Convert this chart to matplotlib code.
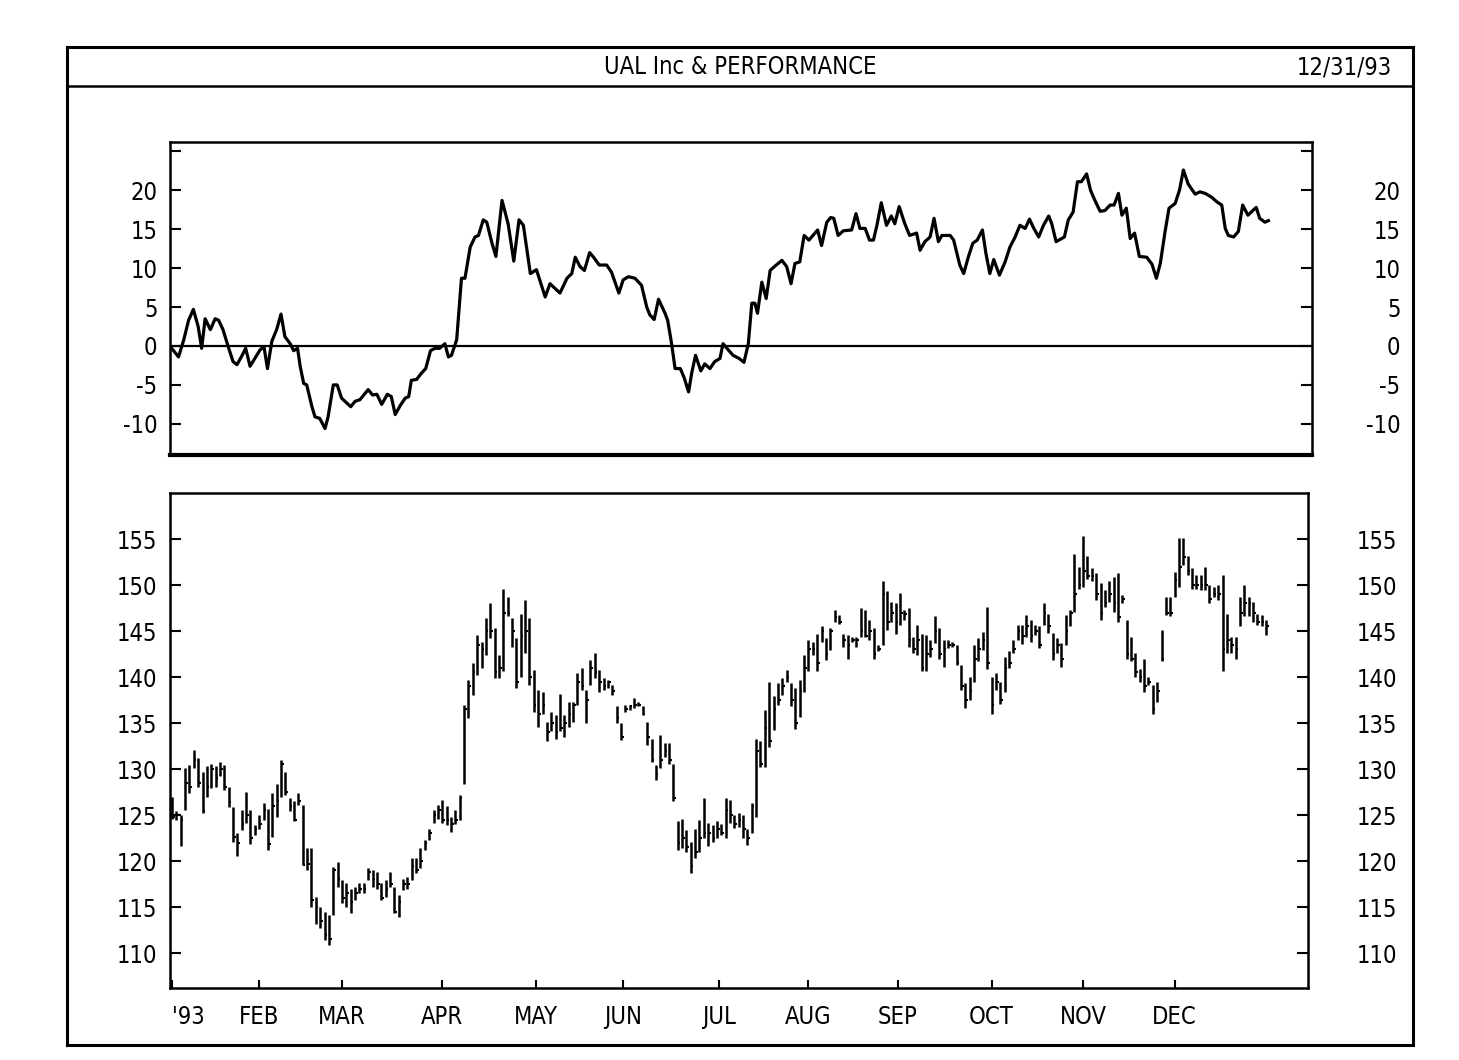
import numpy as np
import matplotlib
matplotlib.use("Agg")
import matplotlib.pyplot as plt
from matplotlib import font_manager as fm

# pick a narrow face if one is installed (the original uses a plotter-like condensed font)
ttf = fm.fontManager.ttflist
names = {f.name for f in ttf}
if 'Liberation Sans Narrow' in names:
    plt.rcParams['font.family'] = ['Liberation Sans Narrow', 'DejaVu Sans']
elif any(f.name == 'DejaVu Sans' and 'condensed' in str(f.stretch) for f in ttf):
    plt.rcParams['font.family'] = ['DejaVu Sans']
    plt.rcParams['font.stretch'] = 'condensed'
else:
    plt.rcParams['font.family'] = ['DejaVu Sans']

# performance line (% vs start): trading-day index, value
perf_day = [-0.5, 1.5, 2.7, 3.8, 4.9, 6.0, 6.8, 7.6, 8.8, 9.9, 10.7, 11.7, 12.9, 14.0, 14.9, 15.9,
            16.9, 17.9, 19.0, 20.2, 21.1, 21.9, 22.9, 24.0, 25.0, 25.9, 27.1, 27.9, 28.8, 29.4, 30.2,
            30.9, 32.1, 32.8, 33.9, 35.1, 35.8, 37.0, 37.9, 38.9, 41.0, 42.0, 43.1, 45.0, 46.0, 47.0,
            48.1, 49.4, 50.3, 51.2, 52.4, 53.5, 54.3, 54.9, 56.1, 57.2, 58.2, 59.3, 60.3, 61.4, 62.6,
            63.4, 64.1, 65.3, 66.4, 67.2, 68.4, 69.5, 70.3, 71.4, 72.2, 73.4, 74.3, 75.7, 77.1, 78.4,
            79.6, 80.6, 82.2, 83.6, 85.6, 86.7, 89.0, 90.6, 91.7, 92.5, 93.6, 94.6, 95.8, 96.7, 98.0,
            99.7, 100.8, 102.5, 103.5, 104.7, 106.2, 107.7, 108.9, 109.6, 110.6, 111.6, 113.1, 113.7,
            114.6, 115.4, 116.6, 117.5, 118.5, 119.2, 120.1, 121.3, 122.2, 123.4, 124.5, 125.7, 126.4,
            127.6, 128.7, 130.1, 131.2, 132.2, 133.0, 133.7, 134.3, 135.3, 136.3, 137.2, 138.4, 139.9,
            141.0, 142.0, 142.9, 144.0, 145.0, 146.1, 148.1, 149.0, 150.2, 151.1, 151.8, 152.8, 154.0,
            155.9, 156.9, 157.8, 159.0, 160.0, 160.9, 161.7, 162.7, 163.9, 165.0, 165.8, 166.8, 168.1,
            169.2, 170.8, 171.6, 172.7, 173.9, 174.8, 175.8, 176.6, 178.5, 179.3, 180.7, 181.6, 182.7,
            183.7, 184.7, 185.9, 186.7, 187.6, 188.5, 189.8, 191.1, 192.2, 193.4, 194.5, 195.7, 196.7,
            197.6, 198.8, 199.9, 201.1, 201.8, 202.8, 204.7, 205.6, 206.7, 207.7, 208.6, 209.8, 210.7,
            211.7, 212.9, 214.0, 215.2, 216.1, 217.1, 217.9, 218.9, 219.8, 220.8, 221.9, 223.6, 224.8,
            225.8, 226.7, 227.8, 228.7, 230.1, 231.1, 232.0, 233.1, 234.7, 235.8, 237.0, 238.5, 239.7,
            240.8, 241.6, 242.3, 243.5, 244.6, 245.6, 246.8, 248.7, 249.5, 250.7, 251.5]
perf_val = [0, -1.4, 0.8, 3.3, 4.7, 2.5, -0.3, 3.5, 2.1, 3.5, 3.3, 2.1, -0.1, -2.0, -2.4, -1.4,
            -0.3, -2.6, -1.6, -0.5, -0.1, -2.9, 0.6, 2.1, 4.1, 1.2, 0.3, -0.6, -0.3, -2.6, -4.8,
            -5.0, -7.8, -9.1, -9.3, -10.6, -9.1, -5.0, -5.0, -6.7, -7.8, -7.1, -6.9, -5.6, -6.3, -6.2,
            -7.5, -6.2, -6.5, -8.8, -7.6, -6.7, -6.5, -4.4, -4.3, -3.5, -2.9, -0.6, -0.3, -0.3, 0.3,
            -1.4, -1.2, 0.8, 8.7, 8.7, 12.7, 14.0, 14.2, 16.2, 15.9, 13.2, 11.5, 18.7, 15.7, 10.9,
            16.2, 15.5, 9.3, 9.8, 6.3, 8.0, 6.8, 8.7, 9.3, 11.4, 10.2, 9.7, 12.0, 11.4, 10.4,
            10.4, 9.5, 6.8, 8.5, 8.9, 8.7, 7.8, 5.0, 4.0, 3.4, 6.0, 4.2, 3.3,
            0.3, -2.9, -2.9, -4.1, -5.9, -3.5, -1.2, -3.2, -2.3, -2.9, -2.0, -1.6, 0.3,
            -0.5, -1.2, -1.6, -2.1, 0.3, 5.5, 5.5, 4.2, 8.2, 6.1, 9.7, 10.3, 11.0,
            10.2, 8.0, 10.6, 10.8, 14.2, 13.6, 14.9, 12.9, 15.9, 16.5, 16.4, 14.2, 14.8,
            14.9, 17.0, 15.1, 15.1, 13.6, 13.6, 15.5, 18.4, 15.5, 16.7, 15.7, 17.9, 15.7,
            14.2, 14.5, 12.3, 13.4, 14.0, 16.4, 13.4, 14.2, 14.2, 13.6, 10.4, 9.3, 11.5,
            13.2, 13.6, 14.9, 11.9, 9.3, 11.1, 9.1, 10.8, 12.7, 14.0, 15.5, 15.1, 16.3,
            15.2, 14.0, 15.5, 16.7, 15.7, 13.4, 14.0, 16.2, 17.2, 21.1, 21.1, 22.1, 20.0,
            18.7, 17.3, 17.4, 18.1, 18.1, 19.6, 16.8, 17.7, 13.8, 14.5, 11.5, 11.4, 10.5,
            8.7, 10.6, 14.7, 17.7, 18.3, 20.0, 22.6, 20.8, 19.5, 19.8, 19.6, 19.1, 18.5,
            18.1, 15.1, 14.2, 14.0, 14.7, 18.1, 16.8, 17.8, 16.4, 15.9, 16.1]

# daily price bars: high, low, close (one per trading day)
price_hi = [127.0, 125.4, 125.0, 130.1, 130.4, 132.1, 131.2, 129.7, 130.3, 130.6, 130.3, 130.8, 130.4,
            128.1, 125.9, 123.0, 125.5, 127.5, 125.5, 123.9, 125.0, 126.3, 125.7, 127.4, 128.4, 131.0,
            129.7, 126.8, 126.5, 127.4, 126.1, 121.4, 121.4, 116.1, 115.0, 114.5, 114.1, 119.4, 119.9,
            117.9, 117.6, 117.0, 117.2, 117.6, 117.6, 119.2, 119.0, 118.8, 117.6, 117.9, 118.8, 117.2,
            116.3, 118.1, 118.3, 120.3, 120.3, 121.4, 122.3, 123.5, 125.5, 126.1, 126.6, 126.0, 124.8,
            125.5, 127.2, 137.0, 139.7, 141.5, 144.6, 143.8, 146.4, 148.0, 145.3, 142.4, 149.6, 148.7,
            146.4, 144.2, 146.9, 148.4, 146.4, 140.8, 138.6, 138.4, 135.1, 136.2, 135.9, 138.2, 135.9,
            137.3, 137.3, 140.4, 141.0, 138.6, 141.9, 142.6, 140.8, 139.9, 139.7, 139.1, 136.8, 135.0,
            137.0, 137.0, 137.7, 137.3, 136.8, 135.1, 133.3, 130.4, 133.7, 132.8, 132.8, 130.6, 124.3,
            124.6, 123.4, 122.1, 123.5, 124.5, 126.8, 124.1, 123.9, 124.3, 124.0, 126.8, 126.6, 125.0,
            125.2, 125.0, 123.5, 126.3, 133.3, 133.1, 136.4, 139.5, 137.9, 139.3, 139.9, 140.8, 139.3,
            138.8, 139.7, 142.4, 144.0, 143.8, 144.7, 145.5, 144.2, 145.3, 147.3, 146.7, 144.7, 144.6,
            144.4, 144.4, 147.5, 147.3, 146.2, 145.3, 143.5, 150.4, 149.3, 148.2, 148.0, 149.1, 147.3,
            147.5, 144.4, 145.7, 144.7, 144.6, 144.0, 146.6, 145.3, 144.0, 144.0, 143.8, 143.5, 141.3,
            139.3, 140.0, 143.5, 144.2, 144.9, 147.6, 140.0, 140.4, 139.5, 142.2, 142.8, 144.0, 145.6,
            145.6, 146.7, 146.2, 145.6, 145.5, 148.0, 146.9, 144.8, 144.2, 143.7, 146.7, 147.3, 153.4,
            152.0, 155.3, 153.1, 151.8, 151.3, 150.2, 149.5, 150.4, 150.9, 151.3, 148.9, 146.2, 144.4,
            142.6, 140.9, 142.0, 140.0, 139.1, 139.5, 145.1, 148.7, 148.7, 151.4, 155.1, 155.1, 153.1,
            151.8, 151.1, 151.1, 152.0, 150.0, 149.8, 150.0, 151.1, 146.9, 144.4, 144.4, 148.7, 150.0,
            148.7, 148.2, 146.9, 146.7, 146.2]
price_lo = [124.6, 124.5, 121.6, 125.5, 127.4, 130.1, 128.1, 125.2, 127.0, 127.9, 128.1, 129.2, 127.7,
            125.9, 122.1, 120.5, 123.4, 124.1, 121.9, 122.8, 123.5, 124.5, 121.2, 122.6, 124.8, 127.0,
            127.2, 125.4, 124.3, 126.1, 119.6, 119.0, 115.0, 113.2, 112.7, 111.4, 110.9, 114.1, 117.2,
            115.4, 115.0, 114.3, 115.8, 116.5, 116.5, 117.9, 117.2, 117.0, 115.8, 116.1, 117.2, 114.3,
            113.9, 116.8, 117.0, 117.9, 118.7, 119.2, 121.2, 122.3, 124.1, 124.6, 124.1, 123.9, 123.2,
            124.0, 124.5, 128.4, 135.5, 138.0, 140.2, 141.0, 142.4, 144.2, 139.9, 139.9, 140.6, 146.6,
            143.3, 138.8, 140.0, 142.6, 139.1, 136.2, 134.6, 136.0, 133.0, 134.1, 133.3, 134.1, 133.5,
            134.6, 135.1, 137.0, 138.6, 135.0, 139.1, 139.9, 138.4, 138.6, 138.8, 138.0, 135.0, 133.2,
            136.2, 136.4, 136.6, 136.8, 135.9, 132.6, 130.8, 128.8, 130.1, 131.3, 130.6, 126.5, 121.2,
            121.4, 121.0, 118.7, 120.3, 121.0, 122.5, 121.6, 122.1, 122.5, 122.8, 122.5, 124.1, 123.6,
            123.7, 122.5, 121.7, 123.0, 124.8, 130.2, 130.2, 132.4, 134.2, 137.0, 138.0, 139.5, 136.8,
            134.4, 135.7, 138.4, 140.6, 142.4, 140.6, 143.8, 141.8, 142.9, 146.0, 145.8, 143.3, 142.0,
            143.8, 143.3, 144.4, 144.4, 144.0, 142.0, 142.8, 143.5, 145.1, 146.0, 144.7, 145.7, 146.2,
            143.3, 142.6, 142.4, 140.6, 140.6, 142.2, 143.7, 142.0, 141.1, 143.1, 143.3, 141.3, 138.6,
            136.6, 137.5, 139.5, 141.7, 142.9, 140.9, 136.0, 138.6, 137.1, 138.4, 141.0, 142.6, 144.0,
            143.6, 144.4, 143.8, 144.6, 143.1, 145.6, 144.8, 141.9, 142.6, 141.1, 143.5, 145.5, 147.1,
            149.6, 149.8, 150.7, 150.4, 148.4, 146.2, 147.6, 148.2, 147.1, 146.0, 148.0, 142.0, 141.7,
            140.0, 139.5, 138.4, 139.1, 136.0, 137.3, 141.7, 146.7, 146.6, 148.7, 149.8, 152.2, 151.1,
            149.6, 149.6, 149.5, 149.5, 148.0, 148.7, 148.4, 140.6, 142.6, 142.6, 142.0, 145.5, 146.6,
            146.6, 146.0, 145.6, 145.5, 144.6]
price_cl = [124.8, 125.0, 124.5, 128.5, 128.0, 131.0, 128.5, 125.4, 128.0, 130.0, 129.0, 130.0, 128.0,
            126.4, 122.6, 122.0, 124.0, 125.0, 122.5, 123.5, 124.0, 125.5, 121.8, 126.0, 126.5, 130.5,
            127.5, 126.0, 124.5, 126.5, 119.6, 119.7, 115.8, 115.0, 113.5, 112.0, 111.5, 119.0, 118.0,
            116.0, 116.5, 115.5, 116.5, 117.0, 117.0, 118.8, 118.0, 117.5, 116.0, 117.0, 117.5, 114.5,
            115.5, 117.5, 117.5, 119.5, 119.0, 120.0, 122.0, 123.0, 125.0, 125.5, 124.5, 124.5, 124.0,
            124.5, 126.8, 136.5, 139.0, 140.5, 143.5, 143.0, 145.0, 145.0, 140.5, 141.0, 147.0, 147.0,
            145.0, 139.5, 144.5, 145.0, 140.0, 137.0, 136.0, 137.0, 134.0, 135.0, 134.0, 134.5, 135.0,
            136.0, 137.0, 139.5, 139.0, 137.5, 141.0, 140.5, 139.5, 139.0, 139.5, 138.5, 135.5, 133.5,
            136.5, 136.8, 137.0, 137.0, 136.0, 133.5, 131.0, 129.5, 131.0, 132.0, 131.0, 126.8, 122.0,
            122.5, 121.5, 119.5, 121.0, 122.5, 123.0, 123.0, 122.5, 123.5, 123.0, 125.5, 125.0, 124.0,
            124.5, 123.5, 122.5, 126.0, 132.0, 130.5, 134.5, 133.0, 136.5, 137.5, 139.0, 140.0, 137.5,
            135.0, 138.5, 141.0, 143.0, 143.0, 141.5, 145.0, 142.5, 145.0, 146.5, 146.0, 144.0, 143.5,
            144.0, 144.0, 145.0, 144.5, 145.0, 142.5, 143.0, 149.0, 146.0, 147.0, 146.0, 147.0, 146.8,
            144.0, 143.0, 144.0, 141.0, 142.5, 143.0, 145.0, 142.5, 143.0, 143.5, 143.5, 141.5, 139.0,
            137.5, 138.5, 142.0, 143.0, 144.0, 141.5, 137.0, 139.5, 137.5, 141.0, 141.5, 143.0, 145.0,
            144.5, 145.5, 144.5, 145.0, 143.5, 147.0, 145.5, 142.5, 143.5, 142.0, 145.0, 147.0, 149.0,
            150.0, 151.5, 151.0, 151.0, 149.0, 147.0, 148.0, 149.0, 148.0, 146.5, 148.5, 142.5, 142.0,
            140.5, 140.0, 139.0, 139.5, 136.5, 138.5, 142.0, 147.0, 147.0, 150.5, 152.0, 153.0, 151.5,
            150.0, 150.0, 150.0, 150.0, 148.5, 149.0, 149.0, 143.0, 144.0, 143.5, 143.0, 147.0, 148.0,
            148.0, 147.0, 146.0, 146.0, 145.5]

month_pos = [0, 20, 39, 62, 83.5, 103.5, 125.5, 146, 166.5, 188, 209, 230]
month_lbl = ["'93", 'FEB', 'MAR', 'APR', 'MAY', 'JUN', 'JUL', 'AUG', 'SEP', 'OCT', 'NOV', 'DEC']

perf_ticks = [-10, -5, 0, 5, 10, 15, 20, 25]
perf_tlbl = ['-10', '-5', '0', '5', '10', '15', '20', '']
price_ticks = [110, 115, 120, 125, 130, 135, 140, 145, 150, 155]

W, H = 1459, 1060
fs = 17
fig = plt.figure(figsize=(W / 100, H / 100), dpi=100)

# outer frame with title strip
frame = fig.add_axes([67 / W, 1 - 1045 / H, 1346 / W, 998 / H])
frame.set_xlim(0, 1)
frame.set_ylim(0, 1)
frame.set_xticks([])
frame.set_yticks([])
for s in frame.spines.values():
    s.set_linewidth(2.2)
frame.axhline(0.961, color='black', lw=1.8)
frame.text(0.5, 0.9795, 'UAL Inc & PERFORMANCE', ha='center', va='center', fontsize=fs)
frame.text(0.9845, 0.9795, '12/31/93', ha='right', va='center', fontsize=fs)

# top panel: performance
ax1 = fig.add_axes([170 / W, 1 - 455 / H, 1142 / W, 313 / H])
ax1.plot(perf_day, perf_val, color='black', lw=2.3, solid_joinstyle='round')
ax1.axhline(0, color='black', lw=1.6)
ax1.set_xlim(-0.46, 261.5)
ax1.set_ylim(-14, 26.2)
ax1.set_xticks([])
ax1.set_yticks(perf_ticks)
ax1.set_yticklabels(perf_tlbl)
ax1.tick_params(axis='y', direction='in', length=8, width=1.5, left=True, right=True,
                labelleft=True, labelright=True, labelsize=fs, pad=9)
for t in ax1.yaxis.get_major_ticks():
    t.label2.set_horizontalalignment('right')
    t.label2.set_x(1 + 76 / 1142)
for s in ax1.spines.values():
    s.set_linewidth(1.8)
ax1.spines['bottom'].set_linewidth(3.0)

# bottom panel: daily high-low-close bars
days = np.arange(len(price_hi))
ax2 = fig.add_axes([170 / W, 1 - 988 / H, 1138 / W, 495 / H])
ax2.vlines(days, price_lo, price_hi, color='black', lw=1.8)
ax2.hlines(price_cl, days, days + 0.6, color='black', lw=1.5)
ax2.set_xlim(-0.46, 260.6)
ax2.set_ylim(106.2, 160)
ax2.set_yticks(price_ticks)
ax2.set_yticklabels([str(v) for v in price_ticks])
ax2.tick_params(axis='y', direction='in', length=8, width=1.5, left=True, right=True,
                labelleft=True, labelright=True, labelsize=fs, pad=9)
for t in ax2.yaxis.get_major_ticks():
    t.label2.set_horizontalalignment('right')
    t.label2.set_x(1 + 77 / 1138)
ax2.set_xticks(month_pos)
ax2.set_xticklabels(month_lbl)
ax2.tick_params(axis='x', direction='in', length=6, width=1.5, labelsize=fs, pad=12)
ax2.get_xticklabels()[0].set_horizontalalignment('left')
for s in ax2.spines.values():
    s.set_linewidth(1.8)

fig.savefig('out.png', dpi=100, facecolor='white')
